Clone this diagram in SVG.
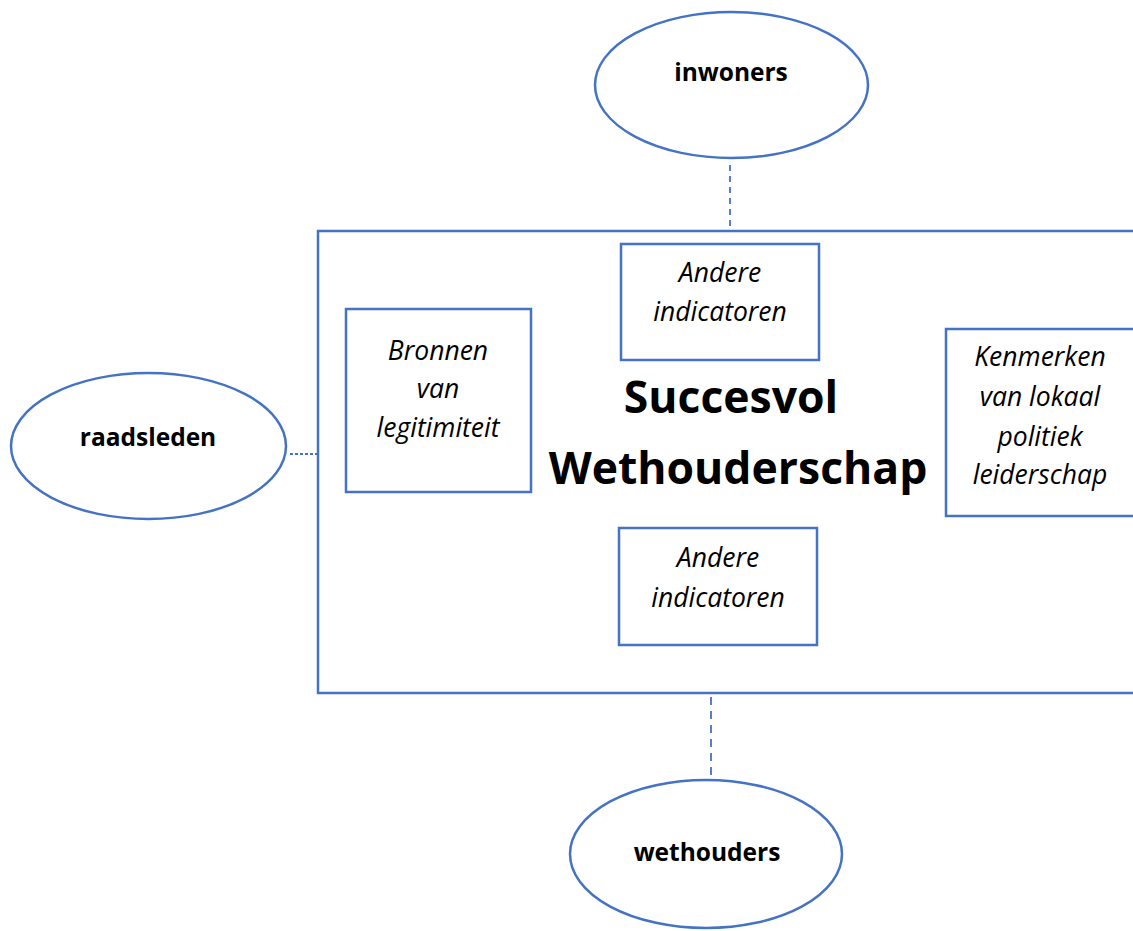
<svg xmlns="http://www.w3.org/2000/svg" width="1133" height="931" viewBox="0 0 1133 931">
<style>
.shape{fill:#fff;stroke:#4472C4;stroke-width:2.5}
.conn{stroke:#4472C4;fill:none;stroke-width:1.8}
.lbl{font-family:"Open Sans","Liberation Sans",sans-serif;font-weight:bold;font-size:24.5px;text-anchor:middle;fill:#000}
.it{font-family:"Open Sans","Liberation Sans",sans-serif;font-style:italic;font-size:26.5px;text-anchor:middle;fill:#000}
.big{font-family:"Open Sans","Liberation Sans",sans-serif;font-weight:bold;font-size:44.5px;text-anchor:middle;fill:#000}
</style>
<rect width="1133" height="931" fill="#fff"/>
<g id="connectors">
<line class="conn" x1="730" y1="165" x2="730" y2="231" stroke-dasharray="6,5"/>
<line class="conn" x1="290" y1="454" x2="318" y2="454" stroke-width="1.2" stroke-dasharray="3,2"/>
<line class="conn" x1="711" y1="697" x2="711" y2="790" stroke-dasharray="8,6"/>
</g>
<g id="main">
<rect class="shape" x="318" y="231" width="830" height="462"/>
<text class="big" x="731" y="413">Succesvol</text>
<text class="big" x="738" y="484">Wethouderschap</text>
</g>
<g id="andere-top">
<rect class="shape" x="621" y="244" width="198" height="116"/>
<text class="it" x="720" y="282">Andere</text>
<text class="it" x="720" y="321">indicatoren</text>
</g>
<g id="bronnen">
<rect class="shape" x="346" y="309" width="185" height="183"/>
<text class="it" x="438" y="360">Bronnen</text>
<text class="it" x="438" y="398">van</text>
<text class="it" x="438" y="437">legitimiteit</text>
</g>
<g id="kenmerken">
<rect class="shape" x="946" y="329" width="200" height="187"/>
<text class="it" x="1040" y="366">Kenmerken</text>
<text class="it" x="1040" y="406">van lokaal</text>
<text class="it" x="1040" y="446">politiek</text>
<text class="it" x="1040" y="484">leiderschap</text>
</g>
<g id="andere-bottom">
<rect class="shape" x="619" y="528" width="198" height="117"/>
<text class="it" x="718" y="567">Andere</text>
<text class="it" x="718" y="607">indicatoren</text>
</g>
<g id="inwoners">
<ellipse class="shape" cx="731.5" cy="85" rx="136.5" ry="73"/>
<text class="lbl" x="731" y="81">inwoners</text>
</g>
<g id="raadsleden">
<ellipse class="shape" cx="148.5" cy="446" rx="137.5" ry="73"/>
<text class="lbl" x="148" y="446">raadsleden</text>
</g>
<g id="wethouders">
<ellipse class="shape" cx="706" cy="854" rx="136" ry="74"/>
<text class="lbl" x="707" y="861">wethouders</text>
</g>
</svg>
